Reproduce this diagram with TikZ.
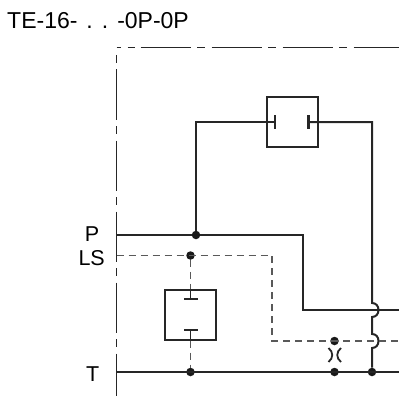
\documentclass[tikz,border=0pt]{standalone}
\usepackage{fontspec}
\setmainfont{Liberation Sans}

\tikzstyle{vertex} = [circle, fill=black!90, inner sep=0pt, minimum size=8.5pt]
\tikzstyle{valve} = [draw=black!85, line width=2pt, inner sep=0pt, minimum width=51pt, minimum height=50pt]
\tikzstyle{vplate} = [fill=black!85, inner sep=0pt, minimum width=2.2pt, minimum height=14pt]
\tikzstyle{hplate} = [fill=black!85, inner sep=0pt, minimum width=14pt, minimum height=2.2pt]
\tikzstyle{port} = [inner sep=0pt, font=\fontsize{21.5}{22}\selectfont]
\tikzstyle{main} = [draw=black!85, line width=2pt]
\tikzstyle{pilot} = [draw=black!65, line width=1.4pt, dash pattern=on 7pt off 5pt]
\tikzstyle{frame} = [draw=black!85, line width=1pt]

\begin{document}
\begin{tikzpicture}[x=1pt, y=-1pt]
      \useasboundingbox (0,0) rectangle (399,396);
      \node[inner sep=0pt, anchor=base west, font=\fontsize{23}{24}\selectfont] (title) at (7,29) {TE-16-\hspace{9pt}.\hspace{9pt}.\hspace{9pt}-0P-0P};
      \node[port, anchor=base east] (p) at (99.5,241.5) {P};
      \node[port, anchor=base east] (ls) at (105,265.5) {LS};
      \node[port, anchor=base east] (t) at (99.5,381.5) {T};

      \node[valve] (topvalve) at (292,122) {};
      \node[valve] (lowvalve) at (190.5,314.5) {};
      \node[vplate] (pl) at (275,122) {};
      \node[vplate] (pr) at (308.5,122) {};
      \node[hplate] (pa) at (190.5,299) {};
      \node[hplate] (pb) at (190.5,330) {};

      \node[vertex] (a) at (196,235) {};
      \node[vertex] (b) at (190.5,255.5) {};
      \node[vertex] (c) at (190.5,372) {};
      \node[vertex] (d) at (334.5,341) {};
      \node[vertex] (e) at (334.5,372) {};
      \node[vertex] (f) at (372,372) {};

      \coordinate (pin) at (116.5,235);
      \coordinate (lsin) at (116.5,255.5);
      \coordinate (tin) at (116.5,372);
      \coordinate (pout) at (399,310);
      \coordinate (lsout) at (399,341);
      \coordinate (tout) at (399,372);
      \coordinate (g) at (196,122);
      \coordinate (h) at (372,122);
      \coordinate (i) at (303,235);
      \coordinate (j) at (303,310);
      \coordinate (k) at (272,255.5);
      \coordinate (l) at (272,341);

      % frame
      \coordinate (fa) at (116.5,47.5);
      \coordinate (fb) at (399,47.5);
      \coordinate (fc) at (116.5,55);
      \coordinate (fd) at (116.5,396);
      \draw[frame, dash pattern=on 4pt off 7pt on 7pt off 6pt on 50pt off 6.5pt on 8pt off 6.5pt on 50pt off 6.5pt on 8pt off 6.5pt on 50pt off 6.5pt on 8pt off 6.5pt on 50pt off 6.5pt] (fa) -- (fb);
      \draw[frame, dash pattern=on 8pt off 6.5pt on 50pt off 6.5pt] (fc) -- (fd);

      \draw[main] (pin) -- (a) -- (i) -- (j) -- (pout);
      \draw[main] (tin) -- (tout);
      \draw[main] (a) -- (g) -- (pl);
      \draw[main] (pr) -- (h) -- (372,303)
            .. controls (376,303) and (378.5,306) .. (378.5,310)
            .. controls (378.5,314) and (376,317) .. (372,317) -- (372,334)
            .. controls (376,334) and (378.5,337) .. (378.5,341)
            .. controls (378.5,345) and (376,348) .. (372,348) -- (f);
      \draw[pilot] (lsin) -- (k) -- (l) -- (lsout);
      \draw[pilot] (b) -- (lowvalve.north);
      \draw[pilot] (lowvalve.south) -- (c);
      \draw[main, line width=1.4pt] (lowvalve.north) -- (pa);
      \draw[main, line width=1.4pt] (pb) -- (lowvalve.south);

      % orifice
      \draw[main, line width=1.8pt] (328.5,348) .. controls (333.5,352) and (333.5,358) .. (328.5,362);
      \draw[main, line width=1.8pt] (341,348) .. controls (336,352) and (336,358) .. (341,362);
    \end{tikzpicture}
\end{document}
